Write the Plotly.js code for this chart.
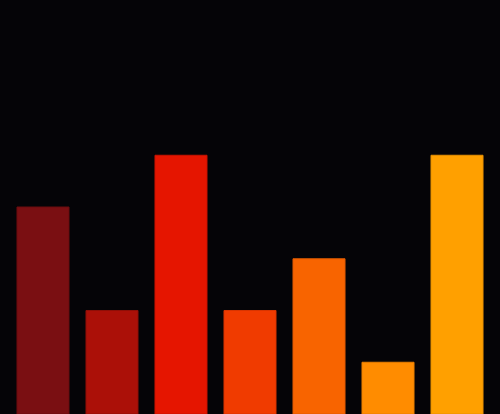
<!DOCTYPE html>
<html>
<head>
<meta charset="utf-8">
<script src="https://cdn.plot.ly/plotly-3.0.1.min.js"></script>
<style>html,body{margin:0;padding:0;background:#050407;}#chart{width:500px;height:414px;}</style>
</head>
<body>
<div id="chart"></div>
<script>
const categories = ["A", "B", "C", "D", "E", "F", "G"];
const values = [4, 2, 5, 2, 3, 1, 5];
const barColors = ["#7a0f12", "#ab1008", "#e51500", "#f03b00", "#f86400", "#ff8c00", "#ffa000"];
const edgeColors = ["#6a0c0f", "#8f0e07", "#c81200", "#d83400", "#e05a00", "#e87e00", "#e89000"];

Plotly.newPlot("chart", [{
  type: "bar",
  x: categories.map((c, i) => i),
  y: values,
  text: categories,
  hoverinfo: "text+y",
  textposition: "none",
  marker: { color: barColors, line: { color: edgeColors, width: 1 } },
  width: 0.754
}], {
  width: 500, height: 414,
  margin: { l: 0, r: 0, t: 0, b: 0 },
  paper_bgcolor: "#050407",
  plot_bgcolor: "#050407",
  showlegend: false,
  xaxis: { range: [-0.623, 6.623], visible: false, showgrid: false, zeroline: false },
  yaxis: { range: [0, 8], visible: false, showgrid: false, zeroline: false }
}, { displayModeBar: false, staticPlot: true });
</script>
</body>
</html>
